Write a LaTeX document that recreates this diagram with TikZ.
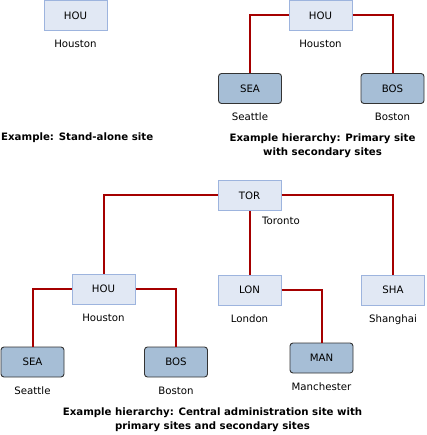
\documentclass[tikz,border=0pt]{standalone}
\usepackage{fontspec}
\setmainfont{DejaVu Sans}
\definecolor{siteline}{HTML}{A50000}
\definecolor{lightfill}{HTML}{E1E8F4}
\definecolor{lightdraw}{HTML}{9DB4DE}
\definecolor{darkfill}{HTML}{A6BED6}
\definecolor{darkdraw}{HTML}{333333}

\begin{document}
\begin{tikzpicture}
  [x=1pt, y=-1pt, font=\fontsize{10.2}{12}\selectfont,
   site/.style={rectangle, draw=lightdraw, fill=lightfill, line width=1pt,
     minimum width=63pt, minimum height=30pt, inner sep=0pt},
   secsite/.style={rectangle, rounded corners=3pt, draw=darkdraw, fill=darkfill,
     line width=0.9pt, minimum width=63pt, minimum height=30pt, inner sep=0pt},
   city/.style={label distance=9pt, inner sep=0pt, text depth=0pt},
   link/.style={draw=siteline, line width=2pt},
   caption/.style={font=\fontsize{10.2}{14}\selectfont\bfseries, inner sep=0pt, align=center}]

\useasboundingbox (0,0) rectangle (426,435);

%%%  nodes

% stand-alone
\node [site, label={[city]below:Houston}] (hou1) at (75.5,15.5) {HOU};
\node [caption, anchor=west] (cap1) at (1,138) {Example: Stand-alone site};

% primary with secondaries
\node [site, label={[city]below:Houston}] (hou2) at (320.5,15.5) {HOU};
\node [secsite, label={[city]below:Seattle}] (sea2) at (250,88.5) {SEA};
\node [secsite, label={[city]below:Boston}] (bos2) at (392.5,88.5) {BOS};
\node [caption] (cap2) at (322.5,146) {Example hierarchy: Primary site\\with secondary sites};

% central site
\node [site, label={[city, xshift=31.5pt, label distance=6pt]below:Toronto}] (tor) at (249.5,195.5) {TOR};

% primaries under it
\node [site, label={[city]below:Houston}] (hou3) at (103.5,289) {HOU};
\node [site, label={[city]below:London}] (lon) at (249.5,290) {LON};
\node [site, label={[city]below:Shanghai}] (sha) at (393,290) {SHA};

% secondaries
\node [secsite, label={[city]below:Seattle}] (sea3) at (32.5,362) {SEA};
\node [secsite, label={[city]below:Boston}] (bos3) at (176,362) {BOS};
\node [secsite, label={[city]below:Manchester}] (man) at (321.5,358) {MAN};

\node [caption] (cap3) at (212.5,419.5) {Example hierarchy: Central administration site with\\primary sites and secondary sites};

%%%  links

% primary with secondaries
\draw [link] (hou2.west) -| (sea2.north);
\draw [link] (hou2.east) -| (bos2.north);

% central site
\draw [link] (tor.west) -| (hou3.north);
\draw [link] (tor.east) -| (sha.north);
\draw [link] (tor) -- (lon);

\draw [link] (hou3.west) -| (sea3.north);
\draw [link] (hou3.east) -| (bos3.north);
\draw [link] (lon.east) -| (man.north);

\end{tikzpicture}
\end{document}
